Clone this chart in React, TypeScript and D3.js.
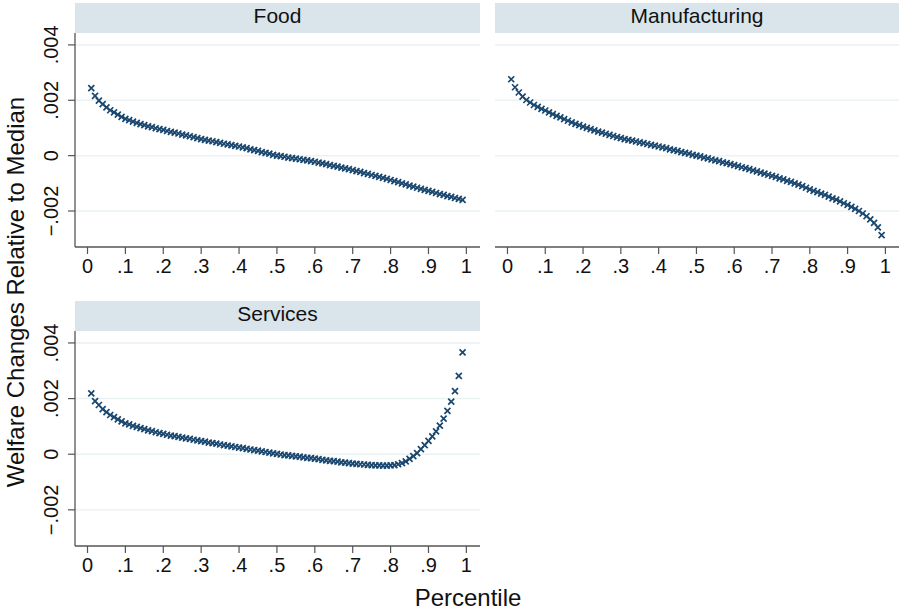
import React from "react";
import * as d3 from "d3";

const percentiles: number[] = Array.from({ length: 99 }, (_, i) => (i + 1) / 100);

// values in units of 1e-3
const food: number[] = [
  2.44, 2.16, 1.99, 1.86, 1.74, 1.64, 1.56, 1.48, 1.40, 1.33,
  1.28, 1.23, 1.18, 1.14, 1.10, 1.06, 1.03, 0.99, 0.96, 0.93,
  0.89, 0.86, 0.83, 0.80, 0.76, 0.73, 0.70, 0.67, 0.63, 0.60,
  0.57, 0.54, 0.52, 0.49, 0.46, 0.43, 0.41, 0.38, 0.35, 0.33,
  0.30, 0.27, 0.23, 0.20, 0.17, 0.13, 0.10, 0.07, 0.03, 0.00,
  -0.02, -0.04, -0.07, -0.09, -0.11, -0.13, -0.15, -0.17, -0.20, -0.22,
  -0.25, -0.28, -0.31, -0.34, -0.37, -0.40, -0.43, -0.46, -0.49, -0.52,
  -0.56, -0.59, -0.63, -0.66, -0.70, -0.73, -0.77, -0.80, -0.84, -0.88,
  -0.92, -0.96, -1.00, -1.04, -1.08, -1.12, -1.16, -1.20, -1.24, -1.27,
  -1.31, -1.35, -1.39, -1.42, -1.46, -1.49, -1.53, -1.56, -1.60,
];

const manufacturing: number[] = [
  2.76, 2.47, 2.28, 2.13, 2.01, 1.92, 1.83, 1.76, 1.69, 1.63,
  1.56, 1.50, 1.44, 1.38, 1.32, 1.26, 1.20, 1.15, 1.10, 1.05,
  1.00, 0.96, 0.91, 0.87, 0.83, 0.79, 0.75, 0.71, 0.67, 0.63,
  0.60, 0.57, 0.54, 0.51, 0.48, 0.45, 0.42, 0.39, 0.36, 0.33,
  0.30, 0.27, 0.23, 0.20, 0.17, 0.13, 0.10, 0.07, 0.03, 0.00,
  -0.03, -0.07, -0.10, -0.14, -0.17, -0.20, -0.24, -0.27, -0.31, -0.34,
  -0.38, -0.42, -0.45, -0.49, -0.53, -0.57, -0.61, -0.65, -0.69, -0.73,
  -0.77, -0.82, -0.86, -0.91, -0.95, -1.00, -1.05, -1.10, -1.16, -1.22,
  -1.27, -1.32, -1.37, -1.42, -1.48, -1.54, -1.59, -1.65, -1.72, -1.78,
  -1.85, -1.92, -2.00, -2.09, -2.19, -2.30, -2.43, -2.59, -2.87,
];

const services: number[] = [
  2.19, 1.91, 1.77, 1.62, 1.51, 1.41, 1.33, 1.25, 1.18, 1.11,
  1.07, 1.02, 0.98, 0.94, 0.90, 0.86, 0.83, 0.79, 0.76, 0.73,
  0.70, 0.67, 0.65, 0.62, 0.60, 0.57, 0.55, 0.52, 0.50, 0.47,
  0.45, 0.42, 0.40, 0.38, 0.35, 0.33, 0.31, 0.28, 0.26, 0.24,
  0.22, 0.19, 0.17, 0.15, 0.13, 0.10, 0.08, 0.06, 0.03, 0.01,
  -0.01, -0.03, -0.04, -0.06, -0.08, -0.09, -0.11, -0.13, -0.14, -0.16,
  -0.18, -0.20, -0.22, -0.24, -0.25, -0.27, -0.29, -0.30, -0.32, -0.34,
  -0.35, -0.36, -0.37, -0.38, -0.39, -0.40, -0.40, -0.41, -0.41, -0.40,
  -0.39, -0.36, -0.32, -0.26, -0.17, -0.07, 0.04, 0.18, 0.33, 0.48,
  0.64, 0.82, 1.03, 1.28, 1.56, 1.89, 2.27, 2.82, 3.66,
];

const xTicks: number[] = [0, 0.1, 0.2, 0.3, 0.4, 0.5, 0.6, 0.7, 0.8, 0.9, 1];
const xTickLabels: string[] = ["0", ".1", ".2", ".3", ".4", ".5", ".6", ".7", ".8", ".9", "1"];
const yTicks: number[] = [-0.002, 0, 0.002, 0.004];
const yTickLabels: string[] = ["\u2212.002", "0", ".002", ".004"];

const panelNames: string[] = ["Food", "Manufacturing", "Services"];
const panelSeries: number[][] = [food, manufacturing, services];

const FONT = "'Liberation Sans', Arial, Helvetica, sans-serif";
const NAVY = "#1a476f";

type Box = { x0: number; x1: number; top: number; stripH: number; bottom: number; yAxis: boolean };
const boxes: Box[] = [
  { x0: 75, x1: 480, top: 3, stripH: 30, bottom: 247, yAxis: true },
  { x0: 495, x1: 899, top: 3, stripH: 30, bottom: 247, yAxis: false },
  { x0: 75, x1: 480, top: 301, stripH: 30, bottom: 546, yAxis: true },
];

function Panel({ name, values, box }: { name: string; values: number[]; box: Box }) {
  const plotTop = box.top + box.stripH;
  const x = d3.scaleLinear().domain([-0.033, 1.036]).range([box.x0, box.x1]);
  const y = d3.scaleLinear().domain([-0.0033, 0.00443]).range([box.bottom, plotTop]);
  const s = 3;
  return (
    <g>
      <rect x={box.x0} y={box.top} width={box.x1 - box.x0} height={box.stripH} fill="#d9e5eb" />
      <text x={(box.x0 + box.x1) / 2} y={box.top + 20} textAnchor="middle" fontSize={21} fontFamily={FONT} fill="#111">
        {name}
      </text>
      {yTicks.map((t, i) => (
        <g key={"y" + i}>
          <line x1={box.x0} x2={box.x1} y1={y(t)} y2={y(t)} stroke="#eaf2f3" strokeWidth={1.5} />
          {box.yAxis && (
            <>
              <line x1={box.x0 - 7} x2={box.x0} y1={y(t)} y2={y(t)} stroke="#555" strokeWidth={1.2} />
              <text
                transform={`translate(${box.x0 - 17.5},${y(t)}) rotate(-90)`}
                textAnchor="middle"
                fontSize={20}
                fontFamily={FONT}
                fill="#111"
              >
                {yTickLabels[i]}
              </text>
            </>
          )}
        </g>
      ))}
      {xTicks.map((t, i) => (
        <g key={"x" + i}>
          <line x1={x(t)} x2={x(t)} y1={box.bottom} y2={box.bottom + 7} stroke="#555" strokeWidth={1.2} />
          <text x={x(t)} y={box.bottom + 26} textAnchor="middle" fontSize={20} fontFamily={FONT} fill="#111">
            {xTickLabels[i]}
          </text>
        </g>
      ))}
      {box.yAxis && (
        <line x1={box.x0} x2={box.x0} y1={plotTop} y2={box.bottom} stroke="#555" strokeWidth={1.3} />
      )}
      <line x1={box.x0} x2={box.x1} y1={box.bottom} y2={box.bottom} stroke="#555" strokeWidth={1.3} />
      {values.map((v, i) => {
        const cx = x(percentiles[i]);
        const cy = y(v / 1000);
        return (
          <path
            key={i}
            d={`M${cx - s},${cy - s}L${cx + s},${cy + s}M${cx - s},${cy + s}L${cx + s},${cy - s}`}
            stroke={NAVY}
            strokeWidth={1.7}
            fill="none"
          />
        );
      })}
    </g>
  );
}

export default function App() {
  return (
    <svg width={900} height={614} style={{ position: "absolute", left: 0, top: 0, background: "#fff" }}>
      <rect width={900} height={614} fill="#fff" />
      {panelNames.map((n, i) => (
        <Panel key={n} name={n} values={panelSeries[i]} box={boxes[i]} />
      ))}
      <text
        transform="translate(24,292) rotate(-90)"
        textAnchor="middle"
        fontSize={24}
        fontFamily={FONT}
        fill="#111"
      >
        Welfare Changes Relative to Median
      </text>
      <text x={468} y={606} textAnchor="middle" fontSize={24} fontFamily={FONT} fill="#111">
        Percentile
      </text>
    </svg>
  );
}
